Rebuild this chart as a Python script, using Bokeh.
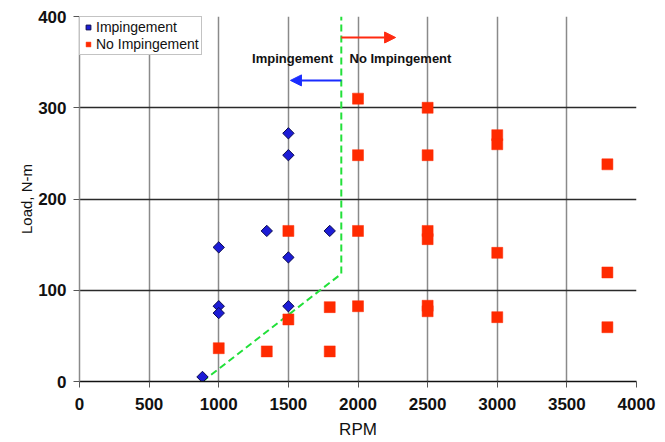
import math
from bokeh.plotting import figure
from bokeh.models import Range1d, FixedTicker, Arrow, NormalHead, Label, Legend, LegendItem
from bokeh.embed import file_html
from bokeh.resources import INLINE

# Operating points with piston-cooling-jet impingement
imp_rpm = [883, 1000, 1000, 1000, 1345, 1500, 1500, 1500, 1500, 1797]
imp_load = [5, 147, 82.5, 75, 165, 272, 248, 136, 82.5, 165]

# Operating points without impingement
noimp_rpm = [1000, 1345, 1500, 1500, 1797, 1797,
             2000, 2000, 2000, 2000,
             2500, 2500, 2500, 2500, 2500, 2500,
             3000, 3000, 3000, 3000,
             3791, 3791, 3791]
noimp_load = [36.5, 33, 165, 68, 33, 81.5,
              310, 248, 165, 82.5,
              300, 248, 165, 156, 83, 77,
              270, 260, 141, 70.5,
              238, 119.5, 59.5]

# Impingement boundary (dashed)
boundary_rpm = [883, 1880, 1880]
boundary_load = [0, 118, 400]

# Region annotations
region_texts = ["Impingement", "No Impingement"]
region_rpm = [1530, 2305]
region_load = [354, 354]
arrow_start_rpm = [1880, 1880]
arrow_end_rpm = [1515, 2270]
arrow_load = [330, 377]

x_ticks = [0, 500, 1000, 1500, 2000, 2500, 3000, 3500, 4000]
y_ticks = [0, 100, 200, 300, 400]

FONT = "Liberation Sans"

p = figure(width=665, height=442,
           x_range=Range1d(0, 4000), y_range=Range1d(0, 400),
           min_border_left=79, min_border_right=29,
           min_border_top=16, min_border_bottom=61,
           output_backend="svg", toolbar_location=None)

p.background_fill_color = "white"
p.border_fill_color = "white"
p.outline_line_color = None

# Grid
p.xgrid.ticker = FixedTicker(ticks=x_ticks)
p.ygrid.ticker = FixedTicker(ticks=y_ticks)
p.xgrid.grid_line_color = "#8a8a8a"
p.xgrid.grid_line_width = 1.5
p.ygrid.grid_line_color = "#2a2a2a"
p.ygrid.grid_line_width = 1.5

# Axes
for ax in (p.xaxis[0], p.yaxis[0]):
    ax.major_label_text_font = FONT
    ax.major_label_text_font_style = "bold"
    ax.major_label_text_font_size = "17px"
    ax.major_label_text_color = "#111111"
    ax.axis_label_text_font = FONT
    ax.axis_label_text_font_style = "normal"
    ax.axis_label_text_color = "#111111"
    ax.minor_tick_line_color = None
    ax.major_tick_in = 0
    ax.major_tick_out = 6

p.xaxis.ticker = FixedTicker(ticks=x_ticks)
p.yaxis.ticker = FixedTicker(ticks=y_ticks)
p.xaxis.axis_label = "RPM"
p.yaxis.axis_label = "Load, N-m"
p.xaxis.axis_label_text_font_size = "17px"
p.yaxis.axis_label_text_font_size = "15px"
p.xaxis.axis_line_color = "#111111"
p.xaxis.axis_line_width = 1.5
p.xaxis.major_tick_line_color = "#555555"
p.yaxis.axis_line_color = "#8a8a8a"
p.yaxis.axis_line_width = 1.5
p.yaxis.major_tick_line_color = "#555555"
p.xaxis.major_label_standoff = 10
p.yaxis.major_label_standoff = 7
p.xaxis.axis_label_standoff = 7
p.yaxis.axis_label_standoff = 0

# Boundary line
p.line(boundary_rpm, boundary_load, line_color="#22e03a", line_width=2, line_dash="7 4")

# Data markers
r_noimp = p.scatter(noimp_rpm, noimp_load, marker="square", size=11,
                    fill_color="#ff2a00", line_color="#ff2a00", line_width=0.5)
r_imp = p.scatter(imp_rpm, imp_load, marker="square", size=8, angle=math.pi / 4,
                  fill_color="#1c1cd6", line_color="#0a0a50", line_width=1)

# Arrows
arrow_colors = ["#1a2cff", "#ff2a10"]
for xs, xe, yv, col in zip(arrow_start_rpm, arrow_end_rpm, arrow_load, arrow_colors):
    p.add_layout(Arrow(end=NormalHead(size=11, fill_color=col, line_color=col),
                       x_start=xs, y_start=yv, x_end=xe, y_end=yv,
                       line_color=col, line_width=2))

# Region labels
for t, xv, yv in zip(region_texts, region_rpm, region_load):
    p.add_layout(Label(x=xv, y=yv, text=t, text_align="center", text_baseline="middle",
                       text_font=FONT, text_font_style="bold", text_font_size="13px",
                       text_color="#111111"))

legend = Legend(items=[LegendItem(label="Impingement", renderers=[r_imp]),
                       LegendItem(label="No Impingement", renderers=[r_noimp])],
                location="top_left")
legend.margin = 0
legend.padding = 2
legend.spacing = 1
legend.label_standoff = 2
legend.glyph_width = 12
legend.glyph_height = 16
legend.label_height = 16
legend.label_text_font = FONT
legend.label_text_font_size = "14px"
legend.label_text_color = "#111111"
legend.border_line_color = "#888888"
legend.border_line_width = 1
legend.background_fill_color = "white"
legend.background_fill_alpha = 1
p.add_layout(legend)

open("out.html", "w").write(file_html(p, INLINE))
